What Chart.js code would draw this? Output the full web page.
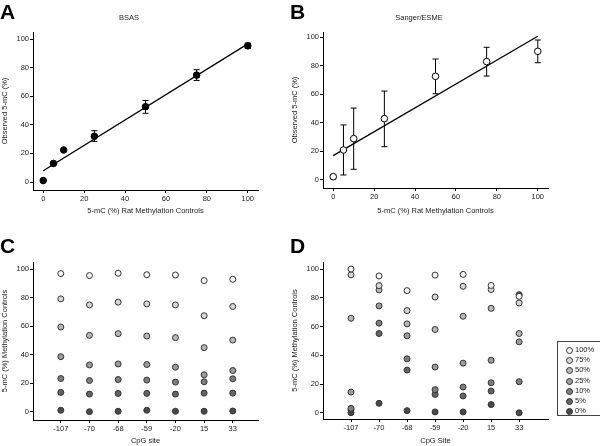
<!DOCTYPE html>
<html>
<head>
<meta charset="utf-8">
<script src="https://cdn.jsdelivr.net/npm/chart.js@4/dist/chart.umd.min.js"></script>
<style>
  body { margin: 0; background: #fff; width: 600px; height: 446px; position: relative; overflow: hidden;
         font-family: "Liberation Sans", Arial, sans-serif; }
  canvas { position: absolute; }
  .letter { position: absolute; font-weight: bold; font-size: 21px; line-height: 1; color: #000; }
  #legendD { position: absolute; left: 557px; top: 341px; width: 60px; height: 75px;
             border: 1px solid #444; font-size: 7.5px; color: #222; padding-top: 3px; box-sizing: border-box; }
  #legendD div { height: 10.2px; line-height: 10.2px; position: relative; padding-left: 17px; }
  #legendD span { position: absolute; left: 8px; top: 2px; width: 5px; height: 5px; border-radius: 50%;
                  border: 1px solid #333; }
</style>
</head>
<body>
<canvas id="chartA" width="300" height="223" style="left:0;top:0"></canvas>
<canvas id="chartB" width="300" height="223" style="left:290px;top:0"></canvas>
<canvas id="chartC" width="300" height="223" style="left:0;top:223px"></canvas>
<canvas id="chartD" width="300" height="223" style="left:290px;top:223px"></canvas>
<div class="letter" style="left:0;top:1px">A</div>
<div class="letter" style="left:290px;top:1px">B</div>
<div class="letter" style="left:0;top:235px">C</div>
<div class="letter" style="left:290px;top:235px">D</div>
<div id="legendD"></div>
<script>
// panel A / B: rat methylation controls
const controlLevels = [0, 5, 10, 25, 50, 75, 100];
const bsasMean = [1, 13, 22.4, 32, 52.7, 74.8, 95.3];
const bsasLow = [null, null, null, 28.4, 48.1, 71.1, 93.5];
const bsasHigh = [null, null, null, 35.9, 57.1, 78.6, 97.2];
const bsasFit = [7.9, 96.7];
const esmeMean = [2.3, 21, 28.9, 42.9, 72.5, 82.8, 90];
const esmeLow = [0.8, 3.5, 7.5, 23.3, 60.3, 72.7, 82];
const esmeHigh = [3.8, 38.5, 50.3, 62.2, 84.6, 92.8, 97.9];
const esmeFit = [17, 100.5];

// panel C / D: per CpG site
const cpgSites = ['-107', '-70', '-68', '-59', '-20', '15', '33'];
const seriesNames = ['100%', '75%', '50%', '25%', '10%', '5%', '0%'];
const seriesColors = ['#f7f7f7', '#d6d6d6', '#b8b8b8', '#9c9c9c', '#7e7e7e', '#646464', '#4a4a4a'];

const bsas100 = [96.8, 95.4, 97, 96, 95.8, 91.9, 92.8];
const bsas75 = [79.1, 74.9, 76.8, 75.6, 74.9, 67.3, 73.8];
const bsas50 = [59.4, 53.6, 54.8, 53.1, 52, 45, 50.3];
const bsas25 = [38.7, 32.9, 33.6, 33.2, 31.3, 26, 29];
const bsas10 = [23.4, 22, 22.7, 22.3, 20.9, 21.1, 23.2];
const bsas5 = [13.7, 12.5, 13, 13, 12.5, 13.2, 13.2];
const bsas0 = [1.2, 0.2, 0.5, 1.2, 0.5, 0.5, 0.7];

const esme100 = [100, 95.2, 85, 95.8, 96.3, 88.6, 81];
const esme75 = [96, 88.5, 71.1, 80.6, 88, 85.8, 76.4];
const esme50 = [65.8, 85.5, 61.9, 58, 67.2, 72.7, 55.2];
const esme25 = [14.5, 74.4, 53.6, 31.9, 34.6, 36.6, 49.4];
const esme10 = [3.2, 62.4, 37.6, 16.2, 18, 21, 21.7];
const esme5 = [2.1, 55.2, 29.8, 12.9, 11.8, 15.2, 82.2];
const esme0 = [0.2, 6.7, 1.6, 0.7, 0.7, 5.8, 0.1];

const bsasSeries = [bsas100, bsas75, bsas50, bsas25, bsas10, bsas5, bsas0];
const esmeSeries = [esme100, esme75, esme50, esme25, esme10, esme5, esme0];

const percentTicks = [0, 20, 40, 60, 80, 100];
const siteTicks = [1, 2, 3, 4, 5, 6, 7];

Chart.defaults.font.family = '"Liberation Sans", Arial, sans-serif';
Chart.defaults.font.size = 7.5;
Chart.defaults.color = '#222';

function axis(min, max, ticks, title, size, titlePad, labels) {
  return {
    type: 'linear', min: min, max: max, bounds: 'data',
    afterBuildTicks: s => { s.ticks = ticks.map(v => ({ value: v })); },
    afterFit: s => { if (s.isHorizontal()) s.height = size; else s.width = size; },
    grid: { display: true, drawOnChartArea: false, drawTicks: true, tickLength: 3, color: '#000' },
    border: { display: true, color: '#000', width: 1 },
    ticks: { padding: 1, color: '#222', maxRotation: 0, autoSkip: false,
             callback: v => labels ? labels[v - 1] : v },
    title: { display: true, text: title, color: '#222', padding: titlePad }
  };
}

function errorBarPoints(xs, lo, hi) {
  const pts = [];
  xs.forEach((x, i) => {
    if (lo[i] == null) return;
    pts.push({ x: x, y: lo[i] }, { x: x, y: hi[i] }, { x: x, y: null });
  });
  return pts;
}

function calibrationChart(id, title, mean, lo, hi, fit, fill, yMin, yMax, xh, xPad) {
  new Chart(document.getElementById(id), {
    type: 'scatter',
    data: {
      datasets: [
        { data: controlLevels.map((x, i) => ({ x: x, y: mean[i] })),
          pointRadius: 3.3, backgroundColor: fill, borderColor: '#000', borderWidth: 1 },
        { data: errorBarPoints(controlLevels, lo, hi), showLine: true, spanGaps: false,
          borderColor: '#000', borderWidth: 1, pointStyle: 'line', pointRadius: 3,
          pointBorderColor: '#000', pointBorderWidth: 1 },
        { data: [{ x: 0, y: fit[0] }, { x: 100, y: fit[1] }], showLine: true,
          borderColor: '#000', borderWidth: 1.3, pointRadius: 0 }
      ]
    },
    options: {
      responsive: false, animation: false,
      layout: { padding: { left: 0, right: 42, top: 0, bottom: 0 } },
      plugins: {
        legend: { display: false }, tooltip: { enabled: false },
        title: { display: true, text: title, color: '#222', font: { size: 7.5, weight: 'normal' },
                 padding: { top: 13.5, bottom: 9.5 } }
      },
      scales: {
        x: axis(-5, 105, percentTicks, '5-mC (%) Rat Methylation Controls', xh, { top: 0, bottom: xPad }),
        y: axis(yMin, yMax, percentTicks, 'Observed 5-mC (%)', 33, { top: 0, bottom: 0 })
      }
    }
  });
}

function siteChart(id, series, xTitle, xMin, xMax, yMin, yMax, top, xh, xPad) {
  new Chart(document.getElementById(id), {
    type: 'scatter',
    data: {
      datasets: series.map((vals, k) => ({
        label: seriesNames[k],
        data: vals.map((v, i) => ({ x: i + 1, y: v })),
        pointRadius: 3, backgroundColor: seriesColors[k], borderColor: '#333', borderWidth: 1
      }))
    },
    options: {
      responsive: false, animation: false,
      layout: { padding: { left: 0, right: 42, top: top, bottom: 0 } },
      plugins: { legend: { display: false }, tooltip: { enabled: false } },
      scales: {
        x: axis(xMin, xMax, siteTicks, xTitle, xh, { top: 0, bottom: xPad }, cpgSites),
        y: axis(yMin, yMax, percentTicks, '5-mC (%) Methylation Controls', 33, { top: 0, bottom: 0 })
      }
    }
  });
}

calibrationChart('chartA', 'BSAS', bsasMean, bsasLow, bsasHigh, bsasFit, '#000', -5.6, 105, 33, 7.5);
calibrationChart('chartB', 'Sanger/ESME', esmeMean, esmeLow, esmeHigh, esmeFit, '#fff', -5.6, 103.5, 35, 7.8);
siteChart('chartC', bsasSeries, 'CpG site', 0.03, 7.88, -5.6, 104.9, 39, 26, 0.5);
siteChart('chartD', esmeSeries, 'CpG Site', 0, 8.03, -4.2, 104.9, 39, 27, 0.5);

// legend for panel D
const legendBox = document.getElementById('legendD');
seriesNames.forEach((name, k) => {
  const row = document.createElement('div');
  const dot = document.createElement('span');
  dot.style.background = seriesColors[k];
  row.appendChild(dot);
  row.appendChild(document.createTextNode(name));
  legendBox.appendChild(row);
});
</script>
</body>
</html>
